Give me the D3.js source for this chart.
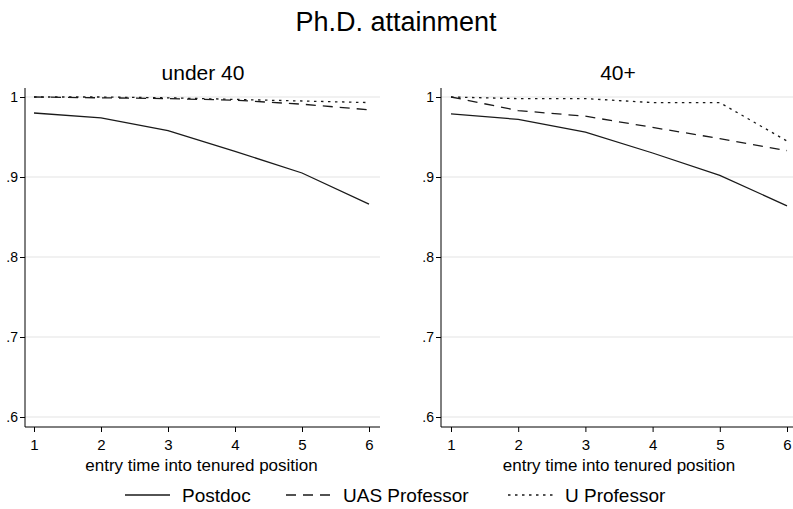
<!DOCTYPE html>
<html>
<head>
<meta charset="utf-8">
<script src="https://cdn.jsdelivr.net/npm/d3@7"></script>
<style>
  body { margin: 0; background: #fff; }
  text { font-family: "Liberation Sans", Arial, sans-serif; fill: #000; }
</style>
</head>
<body>
<script>
// data
var entryTimes = [1, 2, 3, 4, 5, 6];
var seriesNames = ["Postdoc", "UAS Professor", "U Professor"];
var panelTitles = ["under 40", "40+"];
var yTicks = [0.6, 0.7, 0.8, 0.9, 1];

var under40Postdoc = [0.980, 0.974, 0.958, 0.932, 0.905, 0.866];
var under40UAS = [1.000, 0.999, 0.998, 0.996, 0.991, 0.984];
var under40U = [1.000, 1.000, 0.999, 0.997, 0.995, 0.993];

var over40Postdoc = [0.979, 0.972, 0.956, 0.930, 0.902, 0.864];
var over40UAS = [1.000, 0.983, 0.976, 0.962, 0.948, 0.933];
var over40U = [1.000, 0.998, 0.998, 0.993, 0.993, 0.945];

var panelData = [
  [under40Postdoc, under40UAS, under40U],
  [over40Postdoc, over40UAS, over40U]
];
var dashes = [null, "10,7", "2.5,4.5"];

var W = 793, H = 509;
var svg = d3.select("body").append("svg").attr("width", W).attr("height", H);

svg.append("text").attr("x", 396).attr("y", 31).attr("text-anchor", "middle")
  .style("font-size", "27px").text("Ph.D. attainment");

// panel geometry: y-axis line x, first/last tick x
var panels = [
  { axisX: 25, x0: 34, x1: 369, right: 380 },
  { axisX: 441, x0: 451, x1: 787, right: 798 }
];
var yTop = 88, yBottom = 427;

var y = d3.scaleLinear().domain([0.6, 1]).range([417, 97]);

panels.forEach(function (p, pi) {
  var x = d3.scaleLinear().domain([1, 6]).range([p.x0, p.x1]);
  var g = svg.append("g");

  g.append("text").attr("x", pi === 0 ? 203 : 618).attr("y", 80)
    .attr("text-anchor", "middle").style("font-size", "21px").text(panelTitles[pi]);

  // gridlines
  g.selectAll("line.grid").data(yTicks).enter().append("line")
    .attr("x1", p.axisX).attr("x2", p.right)
    .attr("y1", function (d) { return y(d); }).attr("y2", function (d) { return y(d); })
    .attr("stroke", "#e3e3e3").attr("stroke-width", 1);

  // y axis
  var yAxis = d3.axisLeft(y).tickValues(yTicks).tickSize(5).tickPadding(2)
    .tickFormat(function (d) { return d === 1 ? "1" : d3.format(".1f")(d).replace(/^0/, ""); });
  var ya = g.append("g").attr("transform", "translate(" + p.axisX + ",0)").call(yAxis);
  ya.select(".domain").remove();
  ya.append("line").attr("x1", 0).attr("x2", 0).attr("y1", yTop).attr("y2", yBottom)
    .attr("stroke", "#000");
  ya.selectAll("text").style("font-size", "14px").style("font-family", "Liberation Sans, Arial, sans-serif").attr("fill", "#000");

  // x axis
  var xAxis = d3.axisBottom(x).tickValues(entryTimes).tickSize(5).tickPadding(7)
    .tickFormat(d3.format("d"));
  var xa = g.append("g").attr("transform", "translate(0," + yBottom + ")").call(xAxis);
  xa.select(".domain").remove();
  xa.append("line").attr("x1", p.axisX).attr("x2", p.right).attr("y1", 0).attr("y2", 0)
    .attr("stroke", "#000");
  xa.selectAll("text").style("font-size", "15px").style("font-family", "Liberation Sans, Arial, sans-serif").attr("fill", "#000");

  g.append("text").attr("x", (p.x0 + p.x1) / 2).attr("y", 471)
    .attr("text-anchor", "middle").style("font-size", "17px")
    .text("entry time into tenured position");

  var line = d3.line().x(function (d, i) { return x(entryTimes[i]); })
    .y(function (d) { return y(d); });

  panelData[pi].forEach(function (vals, si) {
    g.append("path").datum(vals).attr("d", line).attr("fill", "none")
      .attr("stroke", "#1a1a1a").attr("stroke-width", 1.3)
      .attr("stroke-dasharray", dashes[si]);
  });
});

// legend (kept just inside the bottom edge)
var legendX = [125, 286, 508];
var leg = svg.append("g");
seriesNames.forEach(function (name, i) {
  leg.append("line").attr("x1", legendX[i]).attr("x2", legendX[i] + 45)
    .attr("y1", 495).attr("y2", 495).attr("stroke", "#1a1a1a").attr("stroke-width", 1.3)
    .attr("stroke-dasharray", dashes[i]);
  leg.append("text").attr("x", legendX[i] + 57).attr("y", 502)
    .style("font-size", "19px").text(name);
});
</script>
</body>
</html>
